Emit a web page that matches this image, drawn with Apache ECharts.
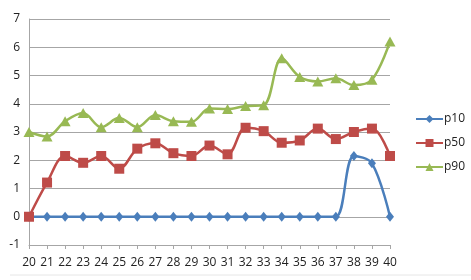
<!DOCTYPE html>
<html>
<head>
<meta charset="utf-8">
<script src="https://cdn.jsdelivr.net/npm/echarts@6/dist/echarts.min.js"></script>
<style>
html,body{margin:0;padding:0;background:#fff;}
#c{width:471px;height:280px;}
</style>
</head>
<body>
<div id="c"></div>
<script>
const categories = ['20','21','22','23','24','25','26','27','28','29','30','31','32','33','34','35','36','37','38','39','40'];
const p10 = [0,0,0,0,0,0,0,0,0,0,0,0,0,0,0,0,0,0,2.15,1.89,0];
const p50 = [0,1.21,2.15,1.91,2.15,1.70,2.41,2.60,2.25,2.15,2.52,2.21,3.15,3.03,2.62,2.70,3.12,2.75,3.0,3.12,2.15];
const p90 = [3.0,2.84,3.38,3.67,3.17,3.5,3.17,3.6,3.38,3.36,3.83,3.81,3.92,3.95,5.61,4.95,4.79,4.9,4.66,4.85,6.2];
const yTicks = {min:-1, max:7, interval:1};

const FONT = '"Open Sans", "Liberation Sans", sans-serif';
const chart = echarts.init(document.getElementById('c'), null, {renderer:'canvas'});
chart.setOption({
  animation:false,
  backgroundColor:'#fff',
  textStyle:{fontFamily:FONT},
  grid:{left:29, right:81, top:19, bottom:35, containLabel:false},
  legend:{
    orient:'vertical', left:410, top:108,
    itemWidth:27, itemHeight:10, itemGap:12,
    textStyle:{fontSize:12, color:'#222', fontFamily:FONT, padding:[0,0,0,-4]},
    data:['p10','p50','p90']
  },
  xAxis:[{
    type:'category', data:categories, boundaryGap:false,
    axisLine:{show:false},
    axisTick:{show:false},
    axisLabel:{fontSize:12, color:'#222', margin:12, interval:0, fontFamily:FONT},
    splitLine:{show:false}
  },{
    type:'category', data:categories, boundaryGap:false, position:'bottom',
    axisLine:{show:true, onZero:true, lineStyle:{color:'#a6a6a6', width:1}},
    axisTick:{show:true, length:4, alignWithLabel:true, lineStyle:{color:'#a6a6a6'}},
    axisLabel:{show:false},
    splitLine:{show:false}
  }],
  yAxis:{
    type:'value', min:yTicks.min, max:yTicks.max, interval:yTicks.interval,
    axisLine:{show:true, lineStyle:{color:'#a6a6a6', width:1}},
    axisTick:{show:false},
    axisLabel:{fontSize:12, color:'#222', margin:9, fontFamily:FONT},
    splitLine:{show:true, lineStyle:{color:'#a6a6a6', width:1}}
  },
  series:[
    {name:'p10', type:'line', data:p10, smooth:0.35, symbol:'diamond', symbolSize:[8,10],
     lineStyle:{color:'#4a7ebb', width:2.5}, itemStyle:{color:'#4a7ebb'}},
    {name:'p50', type:'line', data:p50, smooth:0.35, symbol:'rect', symbolSize:10,
     lineStyle:{color:'#be4b48', width:2.5}, itemStyle:{color:'#be4b48'}},
    {name:'p90', type:'line', data:p90, smooth:0.35, symbol:'triangle', symbolSize:[11,10],
     lineStyle:{color:'#98b954', width:2.5}, itemStyle:{color:'#98b954'}}
  ],
  graphic:[{type:'line', shape:{x1:10, y1:275, x2:471, y2:275}, style:{stroke:'#e6e6e6', lineWidth:1}, silent:true}]
});
</script>
</body>
</html>
